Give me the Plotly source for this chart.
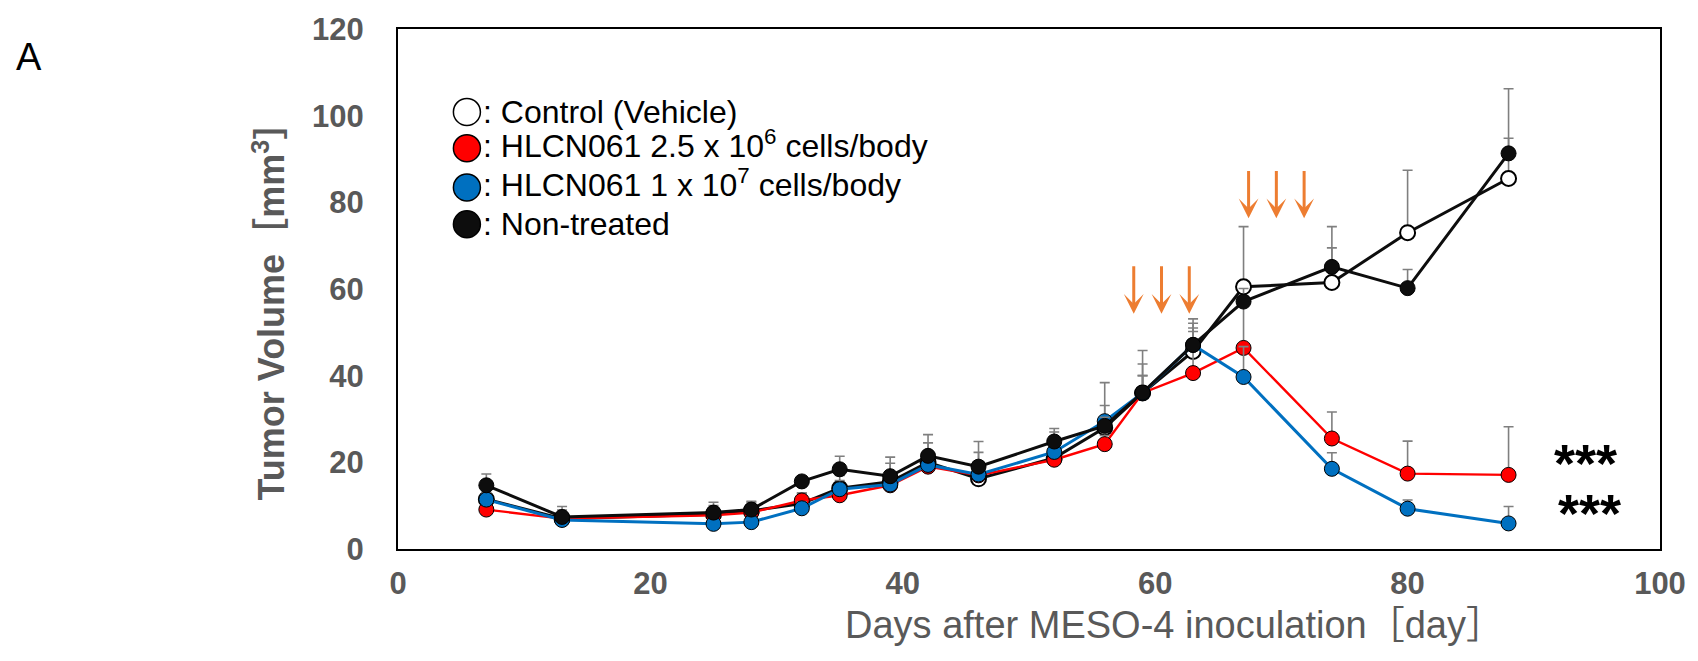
import plotly.graph_objects as go

# ---------------- data ----------------
days = [7, 13, 25, 28, 32, 35, 39, 42, 46, 52, 56, 59, 63, 67, 74, 80, 88]

control = [11.5, 7.0, 8.0, 8.8, 10.5, 14.0, 15.5, 20.0, 16.2, 21.0, 28.0, 36.0, 45.6, 60.5, 61.5, 73.0, 85.5]
control_sd = [2.0, 2.0, 2.0, 2.0, 2.4, 3.0, 4.3, 4.5, 6.1, 6.0, 10.4, 9.8, 7.5, 13.9, 8.0, 14.4, 20.7]

red = [9.1, 7.0, 7.8, 8.4, 11.2, 12.4, 14.7, 19.0, 17.0, 20.6, 24.2, 36.0, 40.6, 46.4, 25.5, 17.4, 17.1]
red_sd = [1.5, 1.5, 1.5, 1.5, 1.7, 2.0, 2.0, 2.0, 3.0, 2.0, 2.0, 4.0, 9.6, 12.0, 6.1, 7.5, 11.1]

blue = [11.4, 6.7, 5.8, 6.2, 9.4, 13.8, 14.9, 19.4, 17.2, 22.4, 29.5, 36.0, 47.1, 39.7, 18.5, 9.3, 5.9]
blue_sd = [1.5, 1.5, 1.5, 1.5, 1.5, 2.0, 2.0, 2.0, 3.0, 3.0, 3.6, 4.0, 3.9, 7.0, 3.7, 2.0, 3.9]

nontreated = [14.7, 7.4, 8.4, 9.1, 15.6, 18.4, 16.8, 21.5, 19.0, 24.8, 28.4, 36.1, 47.1, 57.1, 65.1, 60.2, 91.3]
nontreated_sd = [2.6, 2.4, 2.4, 1.9, 1.0, 3.0, 4.4, 4.9, 5.8, 3.0, 2.0, 6.6, 5.0, 3.0, 9.3, 4.3, 3.5]

x_ticks = [0, 20, 40, 60, 80, 100]
y_ticks = [0, 20, 40, 60, 80, 100, 120]

arrow_days_1 = [58.3, 60.5, 62.7]
arrow_top_1, arrow_tip_1 = 65.6, 54.3
arrow_days_2 = [67.4, 69.6, 71.8]
arrow_top_2, arrow_tip_2 = 87.6, 76.3

legend_labels = [": Control (Vehicle)",
                 ": HLCN061 2.5 x 10<sup>6</sup> cells/body",
                 ": HLCN061 1 x 10<sup>7</sup> cells/body",
                 ": Non-treated"]
legend_fill = ["white", "#FF0000", "#0070C0", "#0D0D0D"]

sig_x = [94.06, 94.4]
sig_y = [21.7, 10.2]

# ---------------- figure ----------------
FONT = "Liberation Sans, Arial, Noto Sans CJK JP"
GRAY = "#595959"
ERR = "#7F7F7F"

fig = go.Figure()

def add_series(y, sd, line_color, fill, lw, edge_w):
    fig.add_trace(go.Scatter(
        x=days, y=y, mode="lines+markers",
        line=dict(color=line_color, width=lw),
        marker=dict(size=15, color=fill, line=dict(color="#000000", width=edge_w)),
        error_y=dict(type="data", symmetric=False, array=sd,
                     arrayminus=[0] * len(sd), color=ERR, thickness=1.6, width=5),
        showlegend=False, hoverinfo="skip"))

add_series(control, control_sd, "#0D0D0D", "white", 3, 2)
add_series(red, red_sd, "#FF0000", "#FF0000", 2.4, 1)
add_series(blue, blue_sd, "#0070C0", "#0070C0", 3, 1)
add_series(nontreated, nontreated_sd, "#0D0D0D", "#0D0D0D", 3, 1)

annotations = []
shapes = []

# dosing arrows
for xs, top, tip in [(arrow_days_1, arrow_top_1, arrow_tip_1),
                     (arrow_days_2, arrow_top_2, arrow_tip_2)]:
    for d in xs:
        annotations.append(dict(x=d, y=tip, ax=d, ay=top, xref="x", yref="y",
                                axref="x", ayref="y", text="", showarrow=True,
                                arrowhead=3, arrowsize=1.1, arrowwidth=3,
                                arrowcolor="#ED7D31"))

# significance marks
for sx, sy in zip(sig_x, sig_y):
    annotations.append(dict(x=sx, y=sy, xref="x", yref="y", text="<b>***</b>",
                            showarrow=False, font=dict(family=FONT, size=54, color="black"),
                            xanchor="center", yanchor="top", yshift=24))

# legend (drawn manually)
leg_x = 0.0546
leg_rows = [0.8405, 0.7708, 0.6953, 0.6246]
leg_text_shift = [0, 4, 4, 0]
for lab, fc, ry, ys in zip(legend_labels, legend_fill, leg_rows, leg_text_shift):
    shapes.append(dict(type="circle", xref="paper", yref="paper",
                       xsizemode="pixel", ysizemode="pixel",
                       xanchor=leg_x, yanchor=ry, x0=-13.5, x1=13.5, y0=-13.5, y1=13.5,
                       fillcolor=fc, line=dict(color="black", width=1.5)))
    annotations.append(dict(x=leg_x, y=ry, xref="paper", yref="paper", text=lab,
                            xshift=14, yshift=ys, showarrow=False, xanchor="left",
                            yanchor="middle",
                            font=dict(family=FONT, size=32, color="black")))

# panel letter
annotations.append(dict(x=-0.2923, y=0.9465, xref="paper", yref="paper", text="A",
                        showarrow=False, xanchor="center", yanchor="middle",
                        font=dict(family=FONT, size=38, color="black")))

# axis titles
annotations.append(dict(x=-0.1023, y=0.4757, xref="paper", yref="paper",
                        text="<b>Tumor Volume［mm<sup>3</sup>］</b>", textangle=-90,
                        showarrow=False, xanchor="center", yanchor="middle",
                        font=dict(family=FONT, size=36, color=GRAY)))
annotations.append(dict(x=0.6149, y=-0.147, xref="paper", yref="paper",
                        text="Days after MESO-4 inoculation［day］",
                        showarrow=False, xanchor="center", yanchor="middle",
                        font=dict(family=FONT, size=38, color=GRAY)))

axis_common = dict(showgrid=False, zeroline=False, showline=True, linecolor="black",
                   linewidth=2, mirror=True, ticks="",
                   tickfont=dict(family=FONT, size=31, color=GRAY, weight="bold"))

fig.update_layout(
    width=1698, height=661, autosize=False,
    margin=dict(l=398, r=29, t=26, b=112),
    paper_bgcolor="white", plot_bgcolor="white",
    xaxis=dict(range=[0, 100], tickvals=x_ticks, ticklabelstandoff=6, **axis_common),
    yaxis=dict(range=[0, 120], tickvals=y_ticks, ticklabelstandoff=26, **axis_common),
    annotations=annotations, shapes=shapes, showlegend=False,
)

fig.write_html("out.html")
